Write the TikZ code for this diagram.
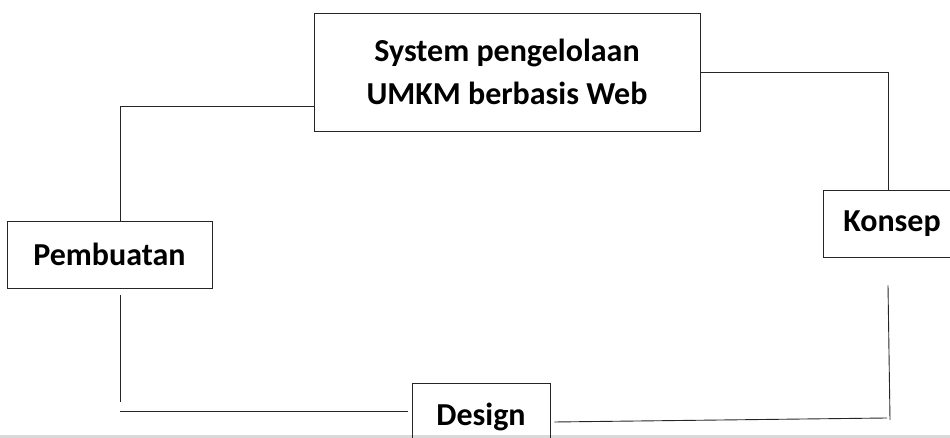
\documentclass[tikz,border=0pt]{standalone}
\usepackage{fontspec}
\setmainfont{Carlito}
\usepackage{tikz}

\tikzset{
  stagebox/.style={draw=black!85, line width=0.9pt, inner sep=0pt, align=center,
    font=\fontsize{32}{43}\selectfont\bfseries},
  link/.style={draw=black!85, line width=0.9pt}
}

\begin{document}
\begin{tikzpicture}[x=1pt, y=1pt]

%% Define a box
\clip (0, 0) rectangle (950, 438);
\fill [black!15] (0, 0) rectangle (950, 2.5);

%% Define the nodes
\node [stagebox, minimum width=386, minimum height=118] (sys) at (507, 366)
  {System pengelolaan\\UMKM berbasis Web};
\node [stagebox, minimum width=138, minimum height=67] (konsep) at (892, 214.5) {Konsep};
\node [stagebox, minimum width=205, minimum height=67] (pemb) at (109.5, 183.5) {Pembuatan};
\node [stagebox, minimum width=138, minimum height=67] (design) at (481, 21.5) {Design};

%% Free ends of the loose segments
% b = begin (segment)
% e = end (segment)
\coordinate (PLb) at ([xshift=10.5pt, yshift=-7pt]pemb.south);
\coordinate (PLe) at (120, 36);
\coordinate (DLb) at (120, 27);
\coordinate (DRe) at (887, 20);
\coordinate (KLb) at ([xshift=-4pt, yshift=-28pt]konsep.south);
\coordinate (KLe) at (890, 18);

%% Draw the connectors
\draw [link] ([yshift=25pt]sys.south west) -| ([xshift=10.5pt]pemb.north);
\draw [link] (sys.east) -| ([xshift=-4pt]konsep.north);

\draw [link] (PLb) -- (PLe);
\draw [link] (DLb) -- ([xshift=-4pt, yshift=5.5pt]design.west);

\draw [link] ([xshift=4pt, yshift=-5.5pt]design.east) -- (DRe);
\draw [link] (KLb) -- (KLe);

\end{tikzpicture}
\end{document}
